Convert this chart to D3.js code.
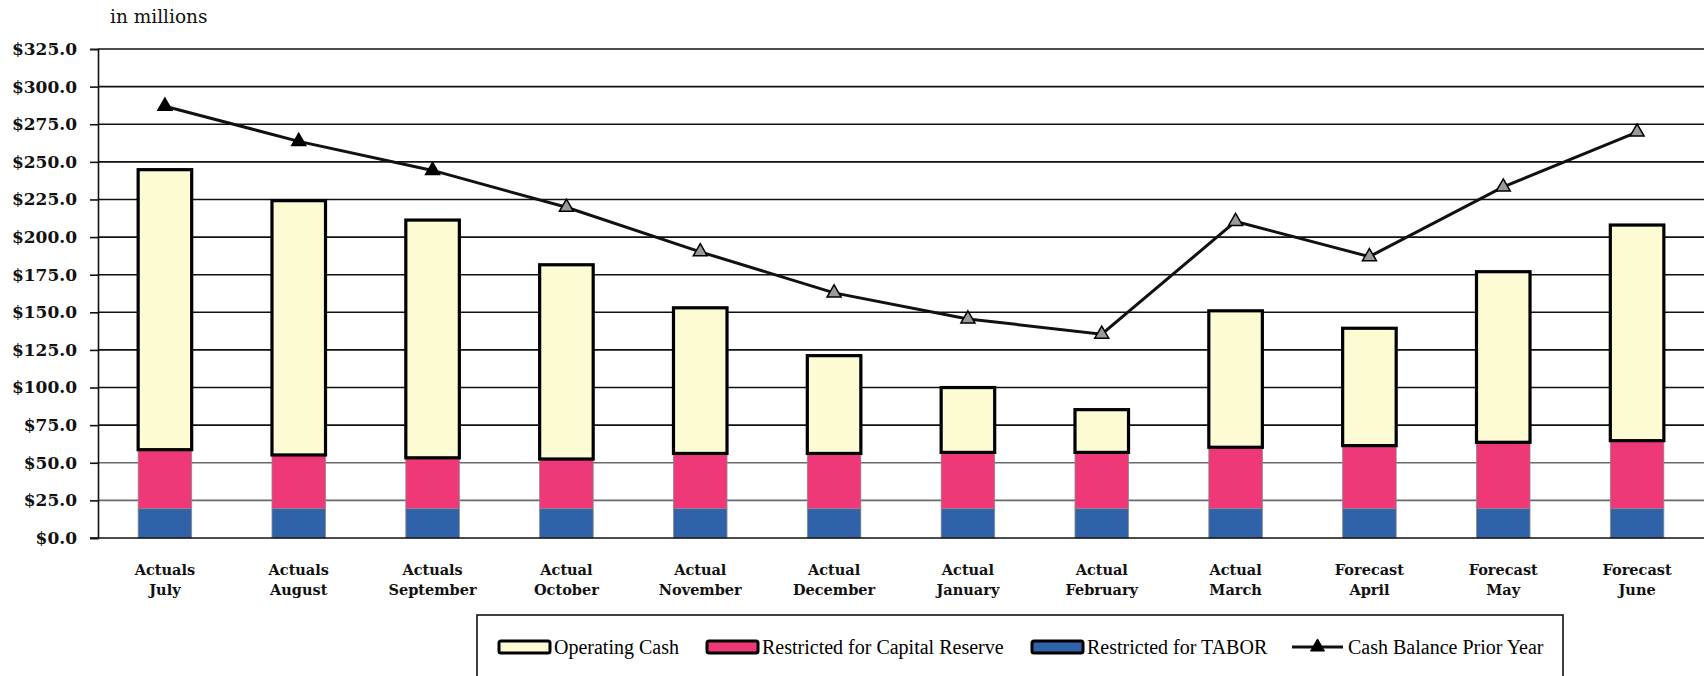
<!DOCTYPE html>
<html>
<head>
<meta charset="utf-8">
<script src="https://cdn.jsdelivr.net/npm/d3@7"></script>
<style>
  html, body { margin: 0; padding: 0; background: #fff; }
  svg { display: block; }
</style>
</head>
<body>
<svg id="chart" width="1704" height="676"></svg>
<script>
// ---- Data (in millions) ----
const categoryTop = ["Actuals", "Actuals", "Actuals", "Actual", "Actual", "Actual", "Actual", "Actual", "Actual", "Forecast", "Forecast", "Forecast"];
const categoryMonth = ["July", "August", "September", "October", "November", "December", "January", "February", "March", "April", "May", "June"];
const tabor = [19.5, 19.5, 19.5, 19.5, 19.5, 19.5, 19.5, 19.5, 19.5, 19.5, 19.5, 19.5];
const capitalReserve = [39.2, 35.7, 33.8, 33.0, 36.7, 36.7, 37.4, 37.4, 40.8, 41.9, 44.1, 45.2];
const operatingCash = [186.1, 169.0, 158.0, 129.1, 96.8, 65.0, 43.1, 28.4, 90.7, 78.0, 113.4, 143.3];
const priorYear = [287.0, 263.6, 244.3, 219.8, 190.2, 162.9, 145.6, 135.5, 210.4, 187.0, 233.3, 269.8];
const yTicks = [0, 25, 50, 75, 100, 125, 150, 175, 200, 225, 250, 275, 300, 325];
const seriesNames = ["Operating Cash", "Restricted for Capital Reserve", "Restricted for TABOR", "Cash Balance Prior Year"];

// ---- Layout ----
const svg = d3.select("#chart");
const pLeft = 98, pRight = 1704, pTop = 49, pBottom = 538;
const labelFont = "'DejaVu Serif', Georgia, serif";
const legendFont = "'Liberation Serif', 'Times New Roman', serif";
const colors = { op: "#fcfbd4", cap: "#ef3878", tab: "#2f62a8" };

const x = d3.scaleBand().domain(categoryMonth).range([pLeft, pRight]).paddingInner(0.6).paddingOuter(0.3);
const y = d3.scaleLinear().domain([0, 325]).range([pBottom, pTop]);

// Gridlines
svg.append("g").selectAll("line").data(yTicks.filter(d => d > 0)).join("line")
  .attr("x1", pLeft).attr("x2", pRight)
  .attr("y1", d => y(d)).attr("y2", d => y(d))
  .attr("stroke", d => (d === 25 || d === 50) ? "#6a6a6a" : "#111")
  .attr("stroke-width", 1.6);

// Stacked data
const rows = categoryMonth.map((m, i) => ({ m, tab: tabor[i], cap: capitalReserve[i], op: operatingCash[i] }));
const stack = d3.stack().keys(["tab", "cap", "op"])(rows);

const barG = svg.append("g");
stack.forEach(layer => {
  const key = layer.key;
  barG.append("g").selectAll("rect").data(layer).join("rect")
    .attr("x", d => x(d.data.m))
    .attr("width", x.bandwidth())
    .attr("y", d => y(d[1]))
    .attr("height", d => y(d[0]) - y(d[1]))
    .attr("fill", colors[key])
    .attr("stroke", key === "op" ? "#000" : "#8a8a8a")
    .attr("stroke-width", key === "op" ? 3.2 : 0.8);
});

// Baseline (x axis)
svg.append("line").attr("x1", pLeft - 8).attr("x2", pRight).attr("y1", y(0)).attr("y2", y(0))
  .attr("stroke", "#111").attr("stroke-width", 1.6);

// Y axis
const yAxis = svg.append("g").attr("transform", `translate(${pLeft},0)`)
  .call(d3.axisLeft(y).tickValues(yTicks).tickSize(8).tickPadding(13)
    .tickFormat(d => "$" + d.toFixed(1)));
yAxis.select(".domain").attr("stroke", "#111").attr("stroke-width", 1.6);
yAxis.selectAll(".tick line").attr("stroke", "#111").attr("stroke-width", 1.6);
yAxis.selectAll("text").attr("font-family", labelFont).attr("font-size", 17)
  .attr("font-weight", "bold").attr("fill", "#111");

// X labels
const xl = svg.append("g").selectAll("text").data(categoryMonth).join("text")
  .attr("x", d => x(d) + x.bandwidth() / 2)
  .attr("text-anchor", "middle")
  .attr("font-family", labelFont).attr("font-size", 14.5).attr("font-weight", "bold").attr("fill", "#111");
xl.append("tspan").attr("x", d => x(d) + x.bandwidth() / 2).attr("y", 575).text((d, i) => categoryTop[i]);
xl.append("tspan").attr("x", d => x(d) + x.bandwidth() / 2).attr("y", 595).text(d => d);

// "in millions"
svg.append("text").attr("x", 110).attr("y", 23).attr("font-family", labelFont)
  .attr("font-size", 18.5).attr("fill", "#111").text("in millions");

// Prior-year line
const cx = i => x(categoryMonth[i]) + x.bandwidth() / 2;
const line = d3.line().x((d, i) => cx(i)).y(d => y(d));
svg.append("path").datum(priorYear).attr("d", line)
  .attr("fill", "none").attr("stroke", "#111").attr("stroke-width", 3);
const tri = d3.symbol().type(d3.symbolTriangle).size(85);
svg.append("g").selectAll("path").data(priorYear).join("path")
  .attr("d", tri)
  .attr("transform", (d, i) => `translate(${cx(i)},${y(d)})`)
  .attr("fill", (d, i) => i < 3 ? "#000" : "#9a9a9a")
  .attr("stroke", "#000").attr("stroke-width", 1.5);

// Legend
const lg = svg.append("g");
lg.append("rect").attr("x", 477).attr("y", 615).attr("width", 1086).attr("height", 80)
  .attr("fill", "#fff").attr("stroke", "#111").attr("stroke-width", 1.6);
const swX = [499, 707, 1032];
const swColors = [colors.op, colors.cap, colors.tab];
const cy = 647;
swX.forEach((sx, i) => {
  lg.append("rect").attr("x", sx).attr("y", cy - 6).attr("width", 51).attr("height", 12)
    .attr("rx", 2).attr("fill", swColors[i]).attr("stroke", "#000").attr("stroke-width", 3);
  lg.append("text").attr("x", sx + 55).attr("y", cy).attr("dy", "0.35em")
    .attr("font-family", legendFont).attr("font-size", 20).attr("fill", "#000").text(seriesNames[i]);
});
lg.append("line").attr("x1", 1292).attr("x2", 1343).attr("y1", cy).attr("y2", cy)
  .attr("stroke", "#111").attr("stroke-width", 3);
lg.append("path").attr("d", tri).attr("transform", `translate(1317.5,${cy})`)
  .attr("fill", "#000").attr("stroke", "#000").attr("stroke-width", 1);
lg.append("text").attr("x", 1348).attr("y", cy).attr("dy", "0.35em")
  .attr("font-family", legendFont).attr("font-size", 20).attr("fill", "#000").text(seriesNames[3]);
</script>
</body>
</html>
